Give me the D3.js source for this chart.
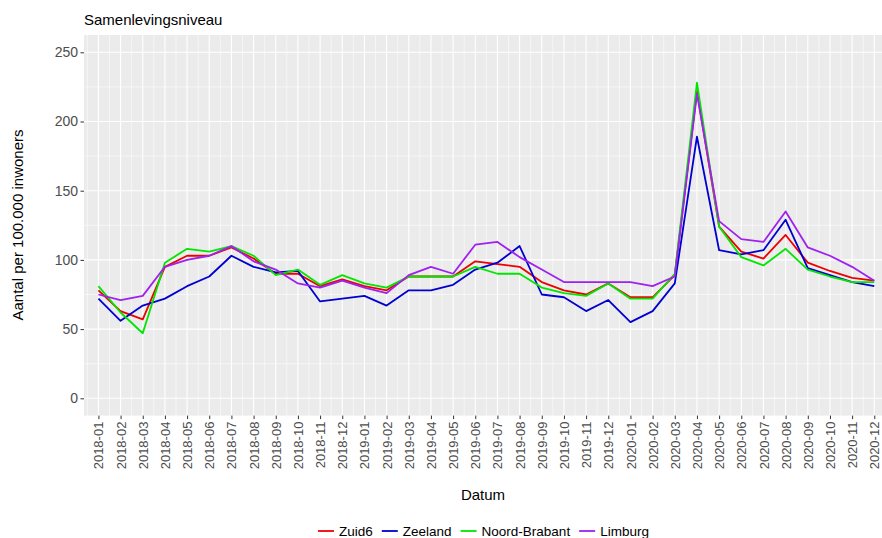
<!DOCTYPE html>
<html><head><meta charset="utf-8">
<script src="https://cdn.jsdelivr.net/npm/d3@7"></script>
<style>body{margin:0;background:#fff}svg{display:block;font-family:"Liberation Sans",Arial,sans-serif}</style>
</head><body><svg id="c" width="882" height="538"></svg>
<script>
const months = ["2018-01","2018-02","2018-03","2018-04","2018-05","2018-06","2018-07","2018-08","2018-09","2018-10","2018-11","2018-12",
"2019-01","2019-02","2019-03","2019-04","2019-05","2019-06","2019-07","2019-08","2019-09","2019-10","2019-11","2019-12",
"2020-01","2020-02","2020-03","2020-04","2020-05","2020-06","2020-07","2020-08","2020-09","2020-10","2020-11","2020-12"];
const zuid6 = [78,63,57,95,103,103,109,101,90,90,81,86, 81,78,88,88,88,99,97,95,84,78,75,83, 73,73,89,222,124,106,101,118,98,92,87,85];
const zeeland = [72,56,67,72,81,88,103,95,91,92,70,72, 74,67,78,78,82,93,98,110,75,73,63,71, 55,63,83,189,107,104,107,129,94,89,84,81];
const noordBrabant = [81,62,47,98,108,106,110,103,89,93,82,89, 83,80,88,88,88,95,90,90,80,76,74,83, 72,72,90,228,124,102,96,108,93,88,84,84];
const limburg = [75,71,74,95,100,103,110,99,93,83,80,85, 80,76,89,95,90,111,113,102,93,84,84,84, 84,81,88,220,128,115,113,135,109,103,95,85];
const seriesNames = ["Zuid6","Zeeland","Noord-Brabant","Limburg"];
const seriesColors = ["#ee0000","#0000d0","#00e600","#a020f0"];
const yTicks = [0,50,100,150,200,250];

const svg = d3.select("#c");
const L = 84, T = 35, B = 415.6;
const x = d3.scaleLinear().domain([-0.65, months.length - 1 + 0.65]).range([L, 888.7]);
const y = d3.scaleLinear().domain([-12.5, 262.5]).range([B, T]);

svg.append("rect").attr("x", L).attr("y", T).attr("width", 888.7 - L).attr("height", B - T).attr("fill", "#ebebeb");
const g = svg.append("g");
// minor grid
d3.range(25, 250, 50).forEach(v => g.append("line").attr("x1", L).attr("x2", 888.7).attr("y1", y(v)).attr("y2", y(v)).attr("stroke", "#fff").attr("stroke-width", 0.55));
d3.range(-1, months.length).forEach(i => g.append("line").attr("x1", x(i + 0.5)).attr("x2", x(i + 0.5)).attr("y1", T).attr("y2", B).attr("stroke", "#fff").attr("stroke-width", 0.55));
// major grid
yTicks.forEach(v => g.append("line").attr("x1", L).attr("x2", 888.7).attr("y1", y(v)).attr("y2", y(v)).attr("stroke", "#fff").attr("stroke-width", 1.1));
months.forEach((m, i) => g.append("line").attr("x1", x(i)).attr("x2", x(i)).attr("y1", T).attr("y2", B).attr("stroke", "#fff").attr("stroke-width", 1.1));

// lines
const data = [zuid6, zeeland, noordBrabant, limburg];
const line = d3.line().x((d, i) => x(i)).y(d => y(d));
data.forEach((s, k) => svg.append("path").attr("d", line(s)).attr("fill", "none").attr("stroke", seriesColors[k]).attr("stroke-width", 1.8).attr("stroke-linejoin", "round"));

// y axis
const ya = svg.append("g").attr("transform", `translate(${L},0)`).call(d3.axisLeft(y).tickValues(yTicks).tickSize(3.5).tickPadding(2.5));
ya.select(".domain").remove();
ya.selectAll(".tick line").attr("stroke", "#333");
ya.selectAll(".tick text").attr("fill", "#4d4d4d").attr("font-size", 14).attr("font-family", "Liberation Sans, Arial, sans-serif");

// x axis
const xa = svg.append("g").attr("transform", `translate(0,${B})`).call(d3.axisBottom(x).tickValues(d3.range(months.length)).tickFormat(i => months[i]).tickSize(3.5).tickPadding(2.5));
xa.select(".domain").remove();
xa.selectAll(".tick line").attr("stroke", "#333");
xa.selectAll(".tick text").attr("fill", "#4d4d4d").attr("font-size", 13).attr("font-family", "Liberation Sans, Arial, sans-serif")
  .attr("transform", "rotate(-90)").attr("text-anchor", "end").attr("x", -6).attr("y", 0).attr("dy", "0.35em");

// titles
svg.append("text").attr("x", L).attr("y", 25).attr("font-size", 15).attr("fill", "#000").text("Samenlevingsniveau");
svg.append("text").attr("x", (L + 882) / 2).attr("y", 500).attr("text-anchor", "middle").attr("font-size", 15).attr("fill", "#000").text("Datum");
svg.append("text").attr("transform", "translate(23,225) rotate(-90)").attr("text-anchor", "middle").attr("font-size", 15).attr("fill", "#000").text("Aantal per 100.000 inwoners");

// legend
const lg = svg.append("g");
let lx = 318;
seriesNames.forEach((n, k) => {
  lg.append("line").attr("x1", lx).attr("x2", lx + 16).attr("y1", 531).attr("y2", 531).attr("stroke", seriesColors[k]).attr("stroke-width", 1.8);
  const t = lg.append("text").attr("x", lx + 21).attr("y", 536).attr("font-size", 13.5).attr("fill", "#000").text(n);
  lx += 21 + t.node().getComputedTextLength() + 9;
});
</script></body></html>
